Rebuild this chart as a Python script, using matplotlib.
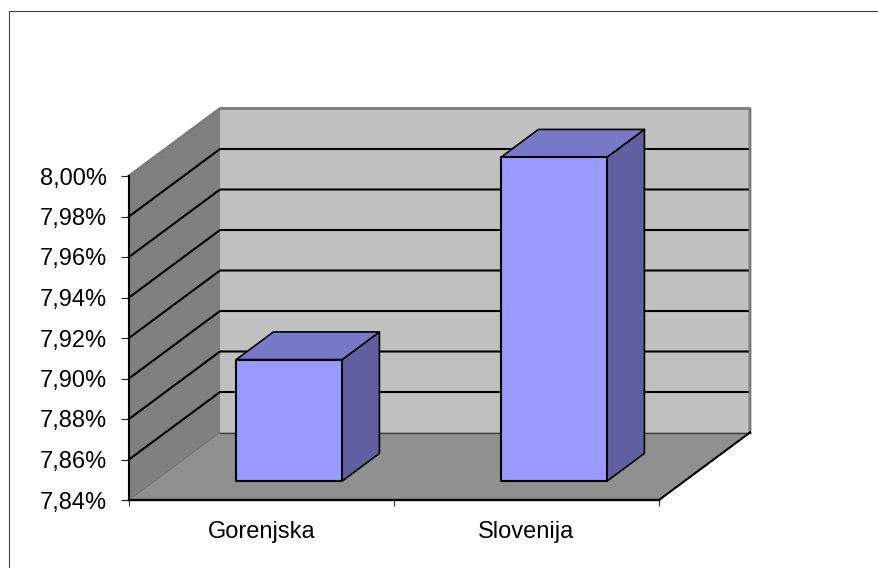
import matplotlib
matplotlib.use("Agg")
import matplotlib.pyplot as plt
from matplotlib.patches import Polygon
from matplotlib.lines import Line2D

plt.rcParams['font.family'] = ['Liberation Sans', 'DejaVu Sans']

# Data
categories = ['Gorenjska', 'Slovenija']
values = [7.90, 8.00]
y_ticks = [7.84, 7.86, 7.88, 7.90, 7.92, 7.94, 7.96, 7.98, 8.00]
y_labels = ['7,84%', '7,86%', '7,88%', '7,90%', '7,92%', '7,94%', '7,96%', '7,98%', '8,00%']

W, H = 879, 568
fig = plt.figure(figsize=(W / 100, H / 100), dpi=100)

# frame of the chart area, only left and top are visible
fig.add_artist(Line2D([9 / W, 9 / W, 1], [0, 1 - 11 / H, 1 - 11 / H], color='#404040', lw=0.8))

# axes = front plane of the 3D box
ax = fig.add_axes([129 / W, (H - 500) / H, 530 / W, 324 / H])
ax.set_xlim(0, len(categories))
ax.set_ylim(y_ticks[0], y_ticks[-1])
ax.patch.set_visible(False)

# oblique offset of the back wall, in data units
depth_x = 91 / 265
depth_y = 67.5 / 324 * (y_ticks[-1] - y_ticks[0])


def pt(x, y, d=0.0):
    return (x + d * depth_x, y + d * depth_y)


def face(points, color, z, edge='none', lw=0.0):
    ax.add_patch(Polygon(points, closed=True, facecolor=color, edgecolor=edge, lw=lw,
                         zorder=z, clip_on=False, joinstyle='round'))


x0, x1 = 0, len(categories)
y0, y1 = y_ticks[0], y_ticks[-1]

# walls and floor
face([pt(x0, y0, 1), pt(x1, y0, 1), pt(x1, y1, 1), pt(x0, y1, 1)], '#C0C0C0', 1)
face([pt(x0, y0), pt(x0, y0, 1), pt(x0, y1, 1), pt(x0, y1)], '#808080', 1.1)
face([pt(x0, y0), pt(x1, y0), pt(x1, y0, 1), pt(x0, y0, 1)], '#909090', 1.2)

# gridlines
for t in y_ticks[1:-1]:
    a, b, c = pt(x0, t), pt(x0, t, 1), pt(x1, t, 1)
    ax.plot([a[0], b[0], c[0]], [a[1], b[1], c[1]], color='black', lw=1.5, zorder=2,
            clip_on=False, solid_joinstyle='miter')

# wall outline
a, b, c, d = pt(x0, y1), pt(x0, y1, 1), pt(x1, y1, 1), pt(x1, y0, 1)
ax.plot([a[0], b[0], c[0], d[0]], [a[1], b[1], c[1], d[1]], color='#7a7a7a', lw=2.0, zorder=2.5, clip_on=False)
a, b = pt(x0, y0, 1), pt(x1, y0, 1)
ax.plot([a[0], b[0]], [a[1], b[1]], color='#404040', lw=1.0, zorder=2.5, clip_on=False)
a, b = pt(x0, y0), pt(x0, y0, 1)
ax.plot([a[0], b[0]], [a[1], b[1]], color='#6e6e6e', lw=0.7, zorder=2.5, clip_on=False)
# floor right edge
a, b = pt(x1, y0), pt(x1, y0, 1)
ax.plot([a[0], b[0]], [a[1], b[1]], color='black', lw=1.5, zorder=2.5, clip_on=False)

# bars
d_front, d_back = 0.28, 0.69
for i, v in enumerate(values):
    l, r = i + 0.308, i + 0.708
    face([pt(r, y0, d_front), pt(r, y0, d_back), pt(r, v, d_back), pt(r, v, d_front)],
         '#6060A0', 3, 'black', 1.2)
    face([pt(l, v, d_front), pt(r, v, d_front), pt(r, v, d_back), pt(l, v, d_back)],
         '#7878C8', 3, 'black', 1.2)
    face([pt(l, y0, d_front), pt(r, y0, d_front), pt(r, v, d_front), pt(l, v, d_front)],
         '#9999FF', 3.1, 'black', 1.5)

# axes
for s in ['top', 'right']:
    ax.spines[s].set_visible(False)
ax.spines['left'].set_linewidth(1.5)
ax.spines['bottom'].set_linewidth(1.7)
ax.spines['left'].set_zorder(4)
ax.spines['bottom'].set_zorder(4)

ax.set_yticks(y_ticks, y_labels)
ax.tick_params(axis='y', length=5.5, width=0.8, pad=10.5, labelsize=17, color='#202020')
ax.set_xticks(range(len(categories) + 1), [''] * (len(categories) + 1))
ax.tick_params(axis='x', which='major', length=4.5, width=0.8, color='#303030')
ax.set_xticks([i + 0.5 for i in range(len(categories))], categories, minor=True)
ax.tick_params(axis='x', which='minor', length=0, pad=15, labelsize=17)

fig.savefig('out.png', dpi=100, facecolor='white')
